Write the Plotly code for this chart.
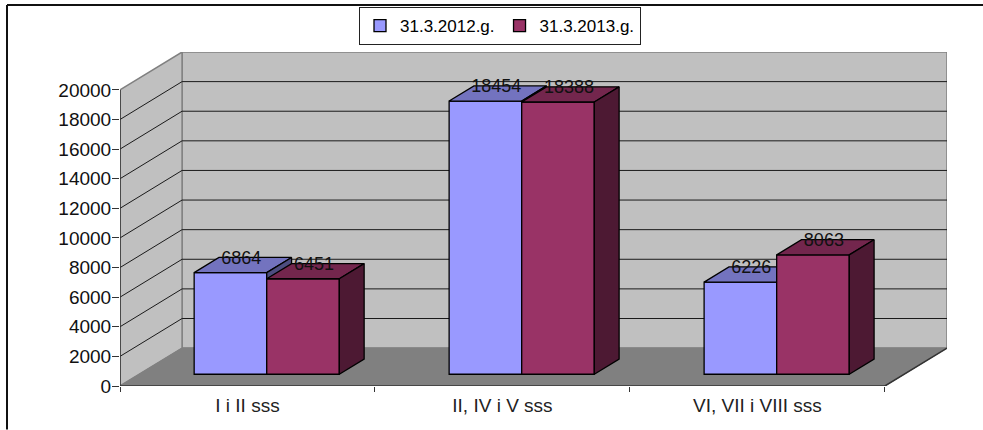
import plotly.graph_objects as go

# ---- data ----
categories = ["I i II sss", "II, IV i V sss", "VI, VII i VIII sss"]
series_names = ["31.3.2012.g.", "31.3.2013.g."]
values_2012 = [6864, 18454, 6226]
values_2013 = [6451, 18388, 8063]
y_ticks = [0, 2000, 4000, 6000, 8000, 10000, 12000, 14000, 16000, 18000, 20000]

# ---- canvas / projection ----
W, H = 983, 430
L, R, T, B = 120, 947, 52, 386.5
Y_MAX = 20000
CAT_PX = 254.7
PX_PER_V = 297 / Y_MAX
DX = 62 / CAT_PX          # depth offset in x data units
DY = 38 / PX_PER_V        # depth offset in y data units
N = len(categories)
X_RANGE = [0, N + DX]
Y_RANGE = [0, Y_MAX + DY]
BAR_W = 72.5 / CAT_PX
Z0, Z1 = 0.31, 0.71


def P(x, v, z):
    return x + z * DX, v + z * DY


def path(pts):
    return "M " + " L ".join(f"{x},{y}" for x, y in pts) + " Z"


def px_x(x):
    return (x - L) / (R - L)


def px_y(y):
    return (B - y) / (B - T)


WALL = "#C0C0C0"
FLOOR = "#808080"
EDGE = "#808080"
GRID = "#1a1a1a"
FONT = "Liberation Sans"

shapes = []
# walls and floor
shapes.append(dict(type="path", xref="x", yref="y", layer="below", fillcolor=WALL,
                   line=dict(color=EDGE, width=1.5),
                   path=path([P(0, 0, 1), P(N, 0, 1), P(N, Y_MAX, 1), P(0, Y_MAX, 1)])))
shapes.append(dict(type="path", xref="x", yref="y", layer="below", fillcolor=WALL,
                   line=dict(color=EDGE, width=1.5),
                   path=path([P(0, 0, 0), P(0, 0, 1), P(0, Y_MAX, 1), P(0, Y_MAX, 0)])))
shapes.append(dict(type="path", xref="x", yref="y", layer="below", fillcolor=FLOOR,
                   line=dict(color=EDGE, width=1),
                   path=path([P(0, 0, 0), P(N, 0, 0), P(N, 0, 1), P(0, 0, 1)])))
# gridlines
for v in y_ticks[1:-1]:
    a, b, c = P(0, v, 0), P(0, v, 1), P(N, v, 1)
    shapes.append(dict(type="path", xref="x", yref="y", layer="below",
                       line=dict(color=GRID, width=1),
                       path=f"M {a[0]},{a[1]} L {b[0]},{b[1]} L {c[0]},{c[1]}"))
# front axis lines
a, b, c, d = P(0, Y_MAX, 0), P(0, 0, 0), P(N, 0, 0), P(N, 0, 1)
shapes.append(dict(type="path", xref="x", yref="y", layer="below",
                   line=dict(color="#333333", width=1.5),
                   path=f"M {a[0]},{a[1]} L {b[0]},{b[1]} L {c[0]},{c[1]} L {d[0]},{d[1]}"))
# outer frame: left and top only
shapes.append(dict(type="line", xref="paper", yref="paper", line=dict(color="#111111", width=2),
                   x0=px_x(7), x1=px_x(7), y0=px_y(5), y1=px_y(430)))
shapes.append(dict(type="line", xref="paper", yref="paper", line=dict(color="#111111", width=2),
                   x0=px_x(7), x1=px_x(983), y0=px_y(5), y1=px_y(5)))

fig = go.Figure()


def add_series(values, name, side, front, top, dark, xa, ya):
    lefts = [i + 0.5 + (0 if side > 0 else -BAR_W) for i in range(N)]
    centers = [x + BAR_W / 2 + Z0 * DX for x in lefts]
    fig.add_trace(go.Bar(x=centers, y=values, base=[Z0 * DY] * N, width=BAR_W, name=name,
                         marker=dict(color=front, line=dict(color="black", width=1.3)),
                         hoverinfo="skip", xaxis=xa, yaxis=ya))
    for xl, v in zip(lefts, values):
        xr = xl + BAR_W
        tp = [P(xl, v, Z0), P(xr, v, Z0), P(xr, v, Z1), P(xl, v, Z1), P(xl, v, Z0)]
        sd = [P(xr, 0, Z0), P(xr, 0, Z1), P(xr, v, Z1), P(xr, v, Z0), P(xr, 0, Z0)]
        for poly, col in ((tp, top), (sd, dark)):
            fig.add_trace(go.Scatter(x=[p[0] for p in poly], y=[p[1] for p in poly],
                                     mode="lines", fill="toself", fillcolor=col,
                                     line=dict(color="black", width=1.3), showlegend=False,
                                     hoverinfo="skip", xaxis=xa, yaxis=ya))


add_series(values_2012, series_names[0], -1, "#9999FF", "#7373BF", "#4D4D80", "x", "y")
add_series(values_2013, series_names[1], 1, "#993366", "#73264D", "#4D1933", "x2", "y2")

# data labels
lab_x, lab_y, lab_t = [], [], []
Z_LAB = (Z0 + Z1) / 2
LABEL_NUDGE_Y = 3.5 / PX_PER_V
LABEL_NUDGE_X = 1.5 / CAT_PX
for i in range(N):
    for side, vals in ((-1, values_2012), (1, values_2013)):
        x, y = P(i + 0.5 + side * BAR_W / 2, vals[i], Z_LAB)
        lab_x.append(x - LABEL_NUDGE_X)
        lab_y.append(y - LABEL_NUDGE_Y)
        lab_t.append(str(vals[i]))
fig.add_trace(go.Scatter(x=lab_x, y=lab_y, text=lab_t, mode="text", textposition="top center",
                         textfont=dict(family=FONT, size=18, color="#111111"),
                         showlegend=False, hoverinfo="skip", cliponaxis=False,
                         xaxis="x2", yaxis="y2"))

fig.update_layout(
    width=W, height=H,
    margin=dict(l=L, r=W - R, t=T, b=H - B, pad=0, autoexpand=False),
    paper_bgcolor="white", plot_bgcolor="rgba(0,0,0,0)",
    barmode="overlay", shapes=shapes, showlegend=True,
    font=dict(family=FONT, size=17, color="black"),
    legend=dict(orientation="h", x=px_x(500), y=px_y(7), xanchor="center", yanchor="top",
                bgcolor="white", bordercolor="#222222", borderwidth=1,
                font=dict(family=FONT, size=17), traceorder="normal", itemclick=False,
                tracegroupgap=0, itemwidth=30),
    xaxis=dict(range=X_RANGE, showgrid=False, zeroline=False, showline=False,
               tickmode="array", tickvals=[i + 0.5 for i in range(N)], ticktext=categories,
               ticks="outside", ticklen=2, tickcolor="rgba(0,0,0,0)",
               tickfont=dict(family=FONT, size=19, color="#222222"),
               minor=dict(tickmode="array", tickvals=list(range(N + 1)), ticks="outside",
                          ticklen=5, tickcolor="#333333", showgrid=False)),
    yaxis=dict(range=Y_RANGE, showgrid=False, zeroline=False, showline=False,
               tickmode="array", tickvals=y_ticks, ticktext=[str(t) for t in y_ticks],
               ticks="outside", ticklen=7, tickcolor="#333333", ticklabelstandoff=-3,
               tickfont=dict(family=FONT, size=19, color="#111111")),
    xaxis2=dict(range=X_RANGE, overlaying="x", visible=False),
    yaxis2=dict(range=Y_RANGE, overlaying="y", visible=False),
)

fig.write_html("out.html", post_script="document.body.style.margin='0';",
               config={"displayModeBar": False})
